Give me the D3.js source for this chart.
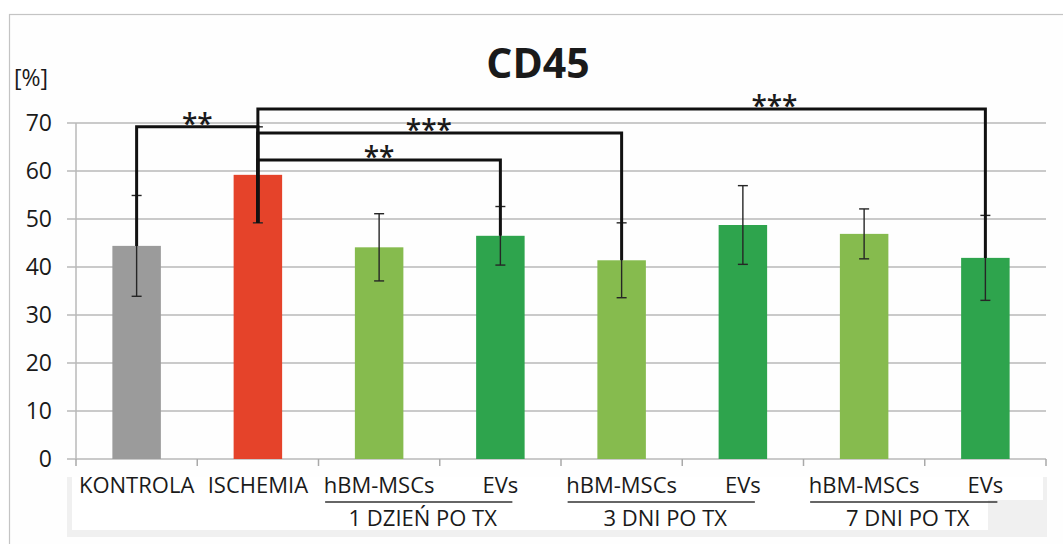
<!DOCTYPE html>
<html>
<head>
<meta charset="utf-8">
<script src="https://cdn.jsdelivr.net/npm/d3@7"></script>
<style>
  html, body { margin: 0; padding: 0; background: #ffffff; }
  svg { display: block; }
  text { font-family: "Open Sans", "DejaVu Sans", sans-serif; fill: #1a1a1a; }
</style>
</head>
<body>
<svg id="chart" width="1063" height="544"></svg>
<script>
// ---- data ----
const categories = ["KONTROLA", "ISCHEMIA", "hBM-MSCs", "EVs", "hBM-MSCs", "EVs", "hBM-MSCs", "EVs"];
const values = [44.4, 59.2, 44.1, 46.5, 41.4, 48.75, 46.9, 41.9];
const errors = [10.5, 10.0, 7.0, 6.1, 7.8, 8.2, 5.2, 8.85];
const barColors = ["#9b9b9b", "#e5432a", "#86bb4e", "#2ea44d", "#86bb4e", "#2ea44d", "#86bb4e", "#2ea44d"];
const yTicks = [0, 10, 20, 30, 40, 50, 60, 70];
const groupLabels = ["1 DZIEŃ PO TX", "3 DNI PO TX", "7 DNI PO TX"];
const groupFirst = [2, 4, 6];
const groupLast = [3, 5, 7];
// significance brackets
const bracketFrom = [0, 1, 1, 1];
const bracketTo = [1, 4, 3, 7];
const bracketLevel = [69.2, 67.9, 62.3, 72.9];
const bracketFromEnd = [44.4, 49.2, 49.2, 49.2];
const bracketToEnd = [49.2, 41.4, 46.5, 41.9];
const bracketLabel = ["**", "***", "**", "***"];
const bracketLabelAt = [0.5, 0.47, 0.5, 0.71];
const chartTitle = "CD45";
const yUnit = "[%]";

(function () {
  const svg = d3.select("#chart");
  const pl = 76, pr = 1046, pt = 123, pb = 459;

  const x = d3.scaleBand()
    .domain(d3.range(categories.length))
    .range([pl, pr])
    .paddingInner(0.6)
    .paddingOuter(0.3);
  const y = d3.scaleLinear().domain([0, 70]).range([pb, pt]);
  const cx = i => x(i) + x.bandwidth() / 2;

  // outer frame
  svg.append("rect")
    .attr("x", 9.5).attr("y", 14.5).attr("width", 1070).attr("height", 560)
    .attr("fill", "#fefefe").attr("stroke", "#c4c4c4").attr("stroke-width", 1.2);

  // label panel
  svg.append("rect").attr("x", 67).attr("y", 477).attr("width", 980).attr("height", 60).attr("fill", "#f0f0f0");
  svg.append("rect").attr("x", 72).attr("y", 477).attr("width", 971).attr("height", 23).attr("fill", "#ffffff");
  svg.append("rect").attr("x", 72).attr("y", 500).attr("width", 916).attr("height", 30).attr("fill", "#ffffff");

  // gridlines (with left tick)
  svg.append("g").selectAll("line").data(yTicks).join("line")
    .attr("x1", pl - 9).attr("x2", pr)
    .attr("y1", d => y(d)).attr("y2", d => y(d))
    .attr("stroke", "#b9b9b9").attr("stroke-width", 1.5);

  // y axis line
  svg.append("line")
    .attr("x1", pl).attr("x2", pl).attr("y1", y(70)).attr("y2", y(0))
    .attr("stroke", "#b9b9b9").attr("stroke-width", 1.5);

  // x axis ticks at band boundaries
  svg.append("g").selectAll("line").data(d3.range(categories.length + 1)).join("line")
    .attr("x1", i => pl + i * x.step()).attr("x2", i => pl + i * x.step())
    .attr("y1", y(0)).attr("y2", y(0) + 7)
    .attr("stroke", "#a9a9a9").attr("stroke-width", 1.5);

  // y tick labels
  svg.append("g").selectAll("text").data(yTicks).join("text")
    .attr("x", 52).attr("y", d => y(d))
    .attr("dy", "0.36em")
    .attr("text-anchor", "end")
    .attr("font-size", 23)
    .text(d => d);

  svg.append("text").attr("x", 14).attr("y", 86).attr("font-size", 23).text(yUnit);

  // title
  svg.append("text").attr("x", 538).attr("y", 78)
    .attr("text-anchor", "middle").attr("font-size", 41).attr("font-weight", "bold")
    .attr("fill", "#111").text(chartTitle);

  // bars
  svg.append("g").selectAll("rect").data(values).join("rect")
    .attr("x", (d, i) => x(i)).attr("width", x.bandwidth())
    .attr("y", d => y(d)).attr("height", d => y(0) - y(d))
    .attr("fill", (d, i) => barColors[i]);

  // error bars
  const eb = svg.append("g").attr("stroke", "#262626").attr("stroke-width", 1.4);
  values.forEach((v, i) => {
    const c = cx(i);
    eb.append("line").attr("x1", c).attr("x2", c).attr("y1", y(v + errors[i])).attr("y2", y(v - errors[i]));
    eb.append("line").attr("x1", c - 5).attr("x2", c + 5).attr("y1", y(v + errors[i])).attr("y2", y(v + errors[i]));
    eb.append("line").attr("x1", c - 5).attr("x2", c + 5).attr("y1", y(v - errors[i])).attr("y2", y(v - errors[i]));
  });

  // significance brackets
  const br = svg.append("g");
  bracketFrom.forEach((f, k) => {
    const t = bracketTo[k];
    const path = d3.path();
    path.moveTo(cx(f), y(bracketFromEnd[k]));
    path.lineTo(cx(f), y(bracketLevel[k]));
    path.lineTo(cx(t), y(bracketLevel[k]));
    path.lineTo(cx(t), y(bracketToEnd[k]));
    br.append("path").attr("d", path.toString())
      .attr("fill", "none").attr("stroke", "#111").attr("stroke-width", 3)
      .attr("stroke-linejoin", "miter");
    const lx = cx(f) + (cx(t) - cx(f)) * bracketLabelAt[k];
    br.append("text").attr("x", lx).attr("y", y(bracketLevel[k]) + 7)
      .attr("text-anchor", "middle").attr("font-size", 28).attr("font-weight", 600)
      .attr("fill", "#111")
      .text(bracketLabel[k]);
  });

  // category labels
  svg.append("g").selectAll("text").data(categories).join("text")
    .attr("x", (d, i) => cx(i)).attr("y", 493)
    .attr("text-anchor", "middle").attr("font-size", 22)
    .text(d => d);

  // group underlines and labels
  groupLabels.forEach((g, k) => {
    const x1 = cx(groupFirst[k]) - 54, x2 = cx(groupLast[k]) + 12;
    svg.append("line").attr("x1", x1).attr("x2", x2).attr("y1", 502).attr("y2", 502)
      .attr("stroke", "#333").attr("stroke-width", 1.5);
    svg.append("text").attr("x", (x1 + x2) / 2 + 4).attr("y", 526)
      .attr("text-anchor", "middle").attr("font-size", 22).text(g);
  });
})();
</script>
</body>
</html>
